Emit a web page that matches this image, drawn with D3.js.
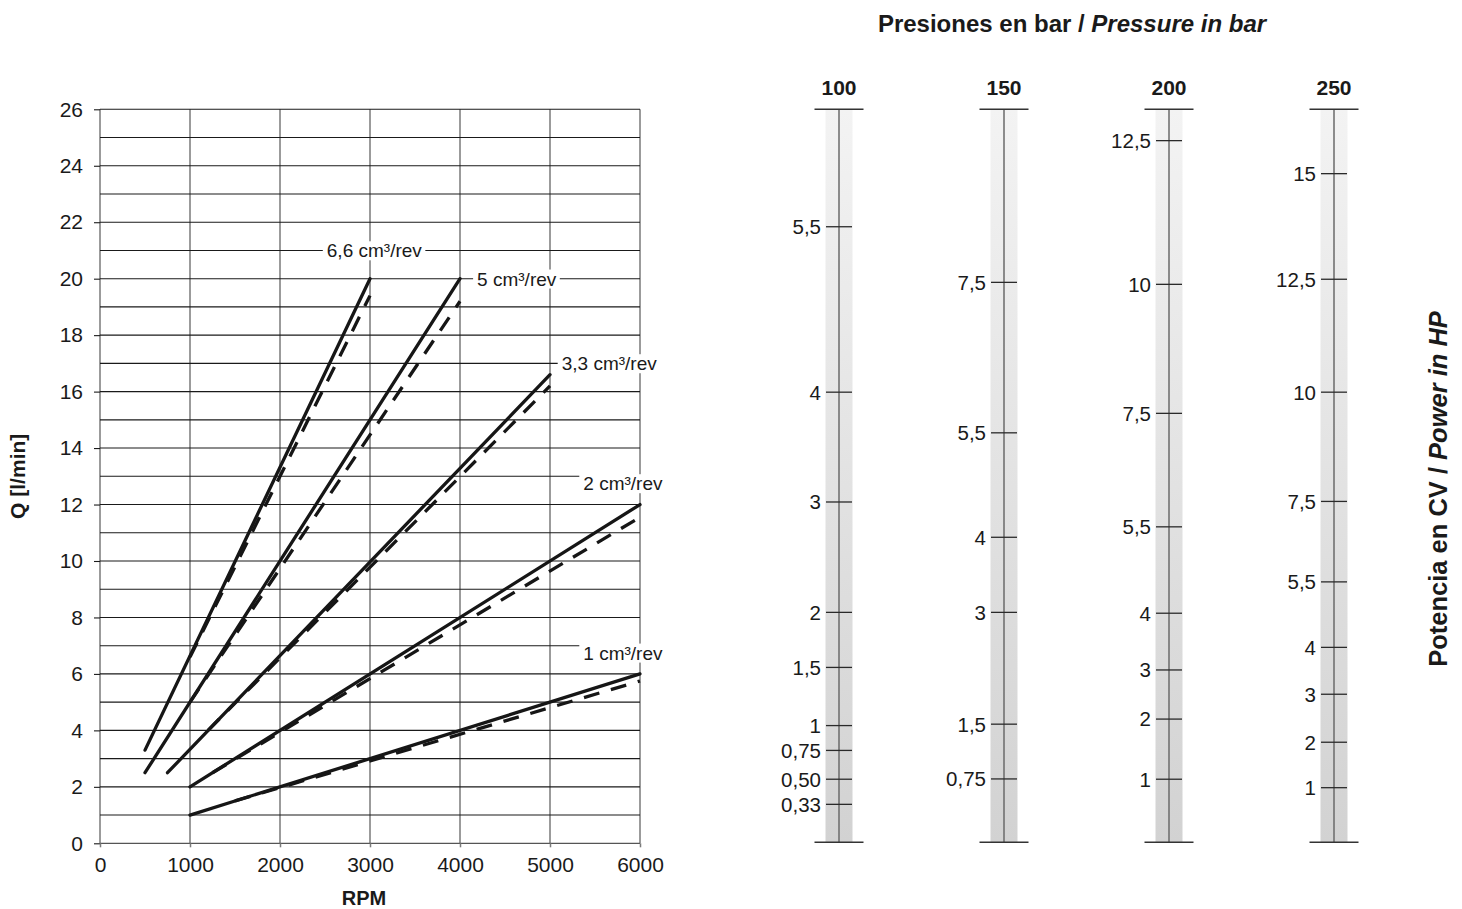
<!DOCTYPE html>
<html><head><meta charset="utf-8">
<script src="https://cdn.jsdelivr.net/npm/d3@7"></script>
<style>
body{margin:0;background:#fff}
svg{display:block}
text{font-family:"Liberation Sans",Arial,Helvetica,sans-serif;fill:#1a1a1a}
</style>
</head><body>
<svg id="c" width="1462" height="909"></svg>
<script>
// ---------- data ----------
const rpmTicks = [0, 1000, 2000, 3000, 4000, 5000, 6000];
const flowTicks = [0, 2, 4, 6, 8, 10, 12, 14, 16, 18, 20, 22, 24, 26];
const flowGrid = [1, 2, 3, 4, 5, 6, 7, 8, 9, 10, 11, 12, 13, 14, 15, 16, 17, 18, 19, 20, 21, 22, 23, 24, 25, 26];

const seriesNames = ["6,6 cm³/rev", "5 cm³/rev", "3,3 cm³/rev", "2 cm³/rev", "1 cm³/rev"];
// theoretical flow (solid): [rpm, l/min]
const theoreticalStart = [[500, 3.3], [500, 2.5], [750, 2.5], [1000, 2], [1000, 1]];
const theoreticalEnd   = [[3000, 20], [4000, 20], [5000, 16.6], [6000, 12], [6000, 6]];
// real flow (dashed): [rpm, l/min]
const realStart = [[1000, 6.6], [1000, 5], [1200, 4], [1250, 2.5], [1500, 1.5]];
const realEnd   = [[3000, 19.4], [4000, 19.2], [5000, 16.2], [6000, 11.55], [6000, 5.75]];
// label anchors: [rpm, l/min]
const labelAnchor = [[2520, 21], [4190, 20], [5130, 17], [5370, 12.75], [5370, 6.75]];

const pressures = [100, 150, 200, 250];
// power tick labels (CV) with equivalent flow (l/min) on the Q axis
const power100 = [["5,5", 21.84], ["4", 15.98], ["3", 12.09], ["2", 8.18], ["1,5", 6.23], ["1", 4.17], ["0,75", 3.29], ["0,50", 2.27], ["0,33", 1.38]];
const power150 = [["7,5", 19.87], ["5,5", 14.54], ["4", 10.84], ["3", 8.18], ["1,5", 4.22], ["0,75", 2.28]];
const power200 = [["12,5", 24.89], ["10", 19.80], ["7,5", 15.23], ["5,5", 11.21], ["4", 8.15], ["3", 6.14], ["2", 4.40], ["1", 2.27]];
const power250 = [["15", 23.72], ["12,5", 19.98], ["10", 15.98], ["7,5", 12.11], ["5,5", 9.26], ["4", 6.94], ["3", 5.28], ["2", 3.58], ["1", 1.97]];
const powerTicks = [power100, power150, power200, power250];

// ---------- drawing ----------
const svg = d3.select("#c");
const x = d3.scaleLinear().domain([0, 6000]).range([100, 640]);
const y = d3.scaleLinear().domain([0, 26]).range([843.3, 109.3]);

const defs = svg.append("defs");
const grad = defs.append("linearGradient").attr("id", "barGrad").attr("x1", 0).attr("y1", 0).attr("x2", 0).attr("y2", 1);
grad.append("stop").attr("offset", "0%").attr("stop-color", "#f3f3f3");
grad.append("stop").attr("offset", "100%").attr("stop-color", "#d2d2d2");

// vertical grid
svg.append("g").selectAll("line").data(rpmTicks).join("line")
  .attr("x1", d => x(d)).attr("x2", d => x(d))
  .attr("y1", y(26)).attr("y2", y(0))
  .attr("stroke", "#7a7a7a").attr("stroke-width", 1.5);

// horizontal grid
svg.append("g").selectAll("line").data(flowGrid).join("line")
  .attr("x1", x(0)).attr("x2", x(6000))
  .attr("y1", d => y(d)).attr("y2", d => y(d))
  .attr("stroke", "#1a1a1a").attr("stroke-width", 1.1);

// axes
const yAxis = svg.append("g").attr("transform", `translate(${x(0)},0)`)
  .call(d3.axisLeft(y).tickValues(flowTicks).tickSize(6).tickPadding(11).tickFormat(d3.format("d")));
yAxis.select(".domain").remove();
yAxis.selectAll(".tick line").attr("stroke", "#1a1a1a").attr("stroke-width", 1.1);
yAxis.selectAll("text").attr("font-size", 21).attr("fill", "#1a1a1a")
  .style("font-family", '"Liberation Sans",Arial,sans-serif');

const xAxis = svg.append("g").attr("transform", `translate(0,${y(0)})`)
  .call(d3.axisBottom(x).tickValues(rpmTicks).tickSize(4).tickPadding(10).tickFormat(d3.format("d")));
xAxis.select(".domain").attr("stroke", "#555").attr("stroke-width", 1.2).attr("d", `M${x(0)},0H${x(6000)}`);
xAxis.selectAll(".tick line").attr("stroke", "#7a7a7a").attr("stroke-width", 1.5);
xAxis.selectAll("text").attr("font-size", 21).attr("fill", "#1a1a1a")
  .style("font-family", '"Liberation Sans",Arial,sans-serif');

// axis titles
svg.append("text").attr("x", 364).attr("y", 905)
  .attr("text-anchor", "middle").attr("font-size", 20).attr("font-weight", "bold").text("RPM");
svg.append("text").attr("transform", `translate(25,${(y(0) + y(26)) / 2}) rotate(-90)`)
  .attr("text-anchor", "middle").attr("font-size", 21).attr("font-weight", "bold").text("Q [l/min]");

// series labels with white background
const labG = svg.append("g");
seriesNames.forEach((name, i) => {
  const g = labG.append("g");
  const t = g.append("text").attr("x", x(labelAnchor[i][0])).attr("y", y(labelAnchor[i][1]))
    .attr("dy", "0.36em").attr("font-size", 19);
  const m = name.match(/^(.*cm)³(.*)$/);
  t.append("tspan").text(m[1]);
  t.append("tspan").text("³");
  t.append("tspan").text(m[2]);
  const bb = t.node().getBBox();
  g.insert("rect", "text").attr("x", bb.x - 4).attr("y", bb.y + 1).attr("width", bb.width + 7).attr("height", bb.height - 2).attr("fill", "#fff");
});

// lines
const line = d3.line().x(d => x(d[0])).y(d => y(d[1]));
const lg = svg.append("g");
theoreticalStart.forEach((s, i) => {
  lg.append("path").attr("d", line([s, theoreticalEnd[i]]))
    .attr("fill", "none").attr("stroke", "#161616").attr("stroke-width", 3.3).attr("stroke-linecap", "round");
});
realStart.forEach((s, i) => {
  lg.append("path").attr("d", line([s, realEnd[i]]))
    .attr("fill", "none").attr("stroke", "#161616").attr("stroke-width", 3.3)
    .attr("stroke-dasharray", "16,12");
});

// power scales
const px = d3.scalePoint().domain(pressures).range([839, 1334]);
const pg = svg.append("g");
pressures.forEach((p, i) => {
  const cx = px(p);
  const g = pg.append("g");
  g.append("rect").attr("x", cx - 13.5).attr("y", y(26)).attr("width", 27).attr("height", y(0) - y(26) - 1)
    .attr("fill", "url(#barGrad)");
  g.append("line").attr("x1", cx).attr("x2", cx).attr("y1", y(26)).attr("y2", y(0) - 1)
    .attr("stroke", "#6a6a6a").attr("stroke-width", 1.5);
  [y(26), y(0) - 1].forEach(yy => g.append("line").attr("x1", cx - 24.5).attr("x2", cx + 24.5)
    .attr("y1", yy).attr("y2", yy).attr("stroke", "#333").attr("stroke-width", 1.4));
  g.append("text").attr("x", cx).attr("y", 87).attr("dy", "0.36em").attr("text-anchor", "middle")
    .attr("font-size", 21).attr("font-weight", "bold").text(p);
  const tk = g.selectAll(".pt").data(powerTicks[i]).join("g").attr("class", "pt");
  tk.append("line").attr("x1", cx - 13).attr("x2", cx + 13).attr("y1", d => y(d[1])).attr("y2", d => y(d[1]))
    .attr("stroke", "#2a2a2a").attr("stroke-width", 1.3);
  tk.append("text").attr("x", cx - 18).attr("y", d => y(d[1])).attr("dy", "0.36em").attr("text-anchor", "end")
    .attr("font-size", 20.5).text(d => d[0]);
});

// titles
const tt = svg.append("text").attr("x", 1072).attr("y", 32).attr("text-anchor", "middle")
  .attr("font-size", 24).attr("font-weight", "bold");
tt.append("tspan").text("Presiones en bar / ");
tt.append("tspan").attr("font-style", "italic").text("Pressure in bar");

const rt = svg.append("text").attr("transform", "translate(1447,489) rotate(-90)").attr("text-anchor", "middle")
  .attr("font-size", 25.5).attr("font-weight", "bold");
rt.append("tspan").text("Potencia en CV / ");
rt.append("tspan").attr("font-style", "italic").text("Power in HP");
</script>
</body></html>
